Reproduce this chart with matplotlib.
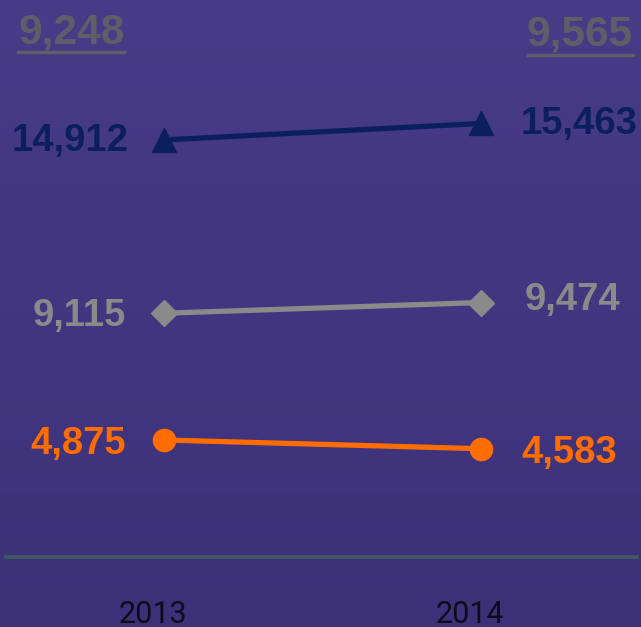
import numpy as np
import matplotlib.pyplot as plt
from matplotlib import transforms
from matplotlib.lines import Line2D
from matplotlib.colors import LinearSegmentedColormap

# data
years = ['2013', '2014']
total = [14912, 15463]
middle = [9115, 9474]
lower = [4875, 4583]
top_totals = ['9,248', '9,565']

series = [
    (total, '#0b1f5e', '^', 17),
    (middle, '#8a8a8a', 'D', 13),
    (lower, '#ff6c00', 'o', 16),
]

W, H = 641, 627
fig = plt.figure(figsize=(W / 100, H / 100), dpi=100)

# gradient background
bg = fig.add_axes([0, 0, 1, 1], zorder=0)
grad = np.linspace(0, 1, 256).reshape(-1, 1)
cmap = LinearSegmentedColormap.from_list('bg', ['#483b87', '#3c3179'])
bg.imshow(grad, aspect='auto', cmap=cmap, extent=[0, 1, 0, 1])
bg.axis('off')

ax = fig.add_axes([6 / W, 1 - 557 / H, 631 / W, 557 / H], zorder=1)
ax.patch.set_alpha(0)
x = np.arange(len(years))
ax.set_xlim((6 - 164) / 317, (637 - 164) / 317)
ax.set_ylim(961, 19593)

for vals, col, mk, ms in series:
    ax.plot(x, vals, color=col, lw=3.8, marker=mk, ms=ms, mec=col, mfc=col,
            solid_capstyle='round', clip_on=False)

font = dict(family='Liberation Sans', weight='bold', fontsize=27.5)
# left labels (right aligned) and right labels (left aligned)
offs = [(-36, -1, 40, -1), (-38, -3, 44, 3), (-38, -4, 40, -4)]
for (vals, col, mk, ms), (lx, ly, rx, ry) in zip(series, offs):
    ax.annotate(f'{vals[0]:,}', (x[0], vals[0]), xytext=(lx, ly), textcoords='offset pixels',
                ha='right', va='center', color=col, **font)
    ax.annotate(f'{vals[1]:,}', (x[1], vals[1]), xytext=(rx, ry), textcoords='offset pixels',
                ha='left', va='center', color=col, **font)

# underlined totals at top
tcol = '#5f5e68'
fig.text(18 / W, 1 - 32 / H, top_totals[0], ha='left', va='center', color=tcol,
         family='Liberation Sans', weight='bold', fontsize=30.5)
fig.text(633 / W, 1 - 35 / H, top_totals[1], ha='right', va='center', color=tcol,
         family='Liberation Sans', weight='bold', fontsize=30.5)
fig.add_artist(Line2D([18 / W, 124 / W], [1 - 52 / H] * 2, color=tcol, lw=2.4,
                      transform=fig.transFigure))
fig.add_artist(Line2D([528 / W, 633 / W], [1 - 55 / H] * 2, color=tcol, lw=2.4,
                      transform=fig.transFigure))

# axis
for s in ['top', 'right', 'left']:
    ax.spines[s].set_visible(False)
ax.spines['bottom'].set_color('#405a60')
ax.spines['bottom'].set_linewidth(2.6)
ax.set_yticks([])
ax.set_xticks(x)
ax.set_xticklabels(years, family='Roboto', weight='normal', fontsize=22, color='#0c0c18')
ax.tick_params(axis='x', length=0, pad=31)
shift = transforms.ScaledTranslation(-11 / 100, 0, fig.dpi_scale_trans)
for lbl in ax.get_xticklabels():
    lbl.set_transform(lbl.get_transform() + shift)

fig.savefig('out.png', dpi=100)
